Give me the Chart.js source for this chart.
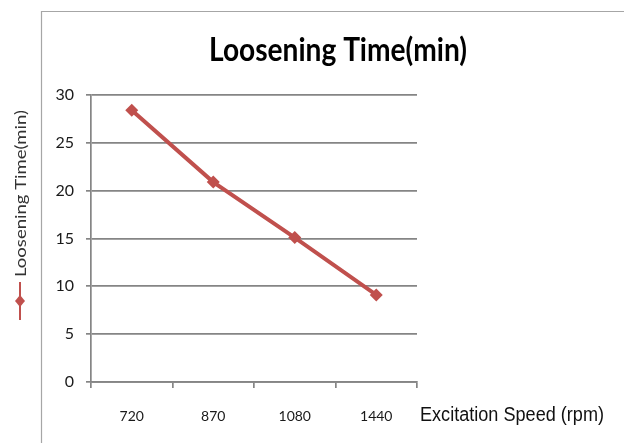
<!DOCTYPE html>
<html lang="en">
<head>
    <meta charset="UTF-8">
    <title>Loosening Time(min)</title>
    <style>
        html, body { margin: 0; padding: 0; background: #fff; }
        #wrap { width: 624px; height: 443px; position: relative; }
    </style>
</head>
<body>
<div id="wrap"><canvas id="lineChart"></canvas></div>

<script src="https://cdn.jsdelivr.net/npm/chart.js@4.4.1/dist/chart.umd.min.js"></script>
<script>
// data
const speedLabels = ['720', '870', '1080', '1440']
const looseningTime = [28.4, 20.9, 15.1, 9.1]
const yTicks = [0, 5, 10, 15, 20, 25, 30]

const chartTitle = 'Loosening Time(min)'
const seriesName = 'Loosening Time(min)'
const xTitle = 'Excitation Speed (rpm)'

const red = '#C0504D'
const gridGray = '#858585'

// draw text squeezed/stretched to a given width (keeps it real text)
function fitText(ctx, text, x, y, width) {
    let w = ctx.measureText(text).width
    ctx.save()
    ctx.translate(x, y)
    ctx.scale(width / w, 1)
    ctx.fillText(text, 0, 0)
    ctx.restore()
}

const decorations = {
    id: 'decorations',
    afterDraw(chart) {
        let ctx = chart.ctx
        ctx.save()

        // chart frame (left and top edges)
        ctx.strokeStyle = '#a6a6a6'
        ctx.lineWidth = 1.2
        ctx.beginPath()
        ctx.moveTo(41.5, 443)
        ctx.lineTo(41.5, 11.5)
        ctx.lineTo(624, 11.5)
        ctx.stroke()

        // title
        ctx.fillStyle = '#000'
        ctx.font = 'bold 33px Lato'
        ctx.textAlign = 'left'
        ctx.textBaseline = 'alphabetic'
        fitText(ctx, chartTitle, 209, 61, 258)

        // x axis title, right of the axis
        ctx.fillStyle = '#111'
        ctx.font = '20px "Liberation Sans"'
        fitText(ctx, xTitle, 420, 421, 184)

        // rotated legend on the left
        ctx.save()
        ctx.translate(26, 277)
        ctx.rotate(-Math.PI / 2)
        ctx.font = '15px Lato'
        ctx.fillStyle = '#333'
        fitText(ctx, seriesName, 0, 0, 167)
        ctx.restore()

        ctx.strokeStyle = red
        ctx.lineWidth = 2
        ctx.beginPath()
        ctx.moveTo(20, 282)
        ctx.lineTo(20, 320)
        ctx.stroke()
        ctx.fillStyle = red
        ctx.beginPath()
        ctx.moveTo(20, 295)
        ctx.lineTo(25, 301)
        ctx.lineTo(20, 307)
        ctx.lineTo(15, 301)
        ctx.closePath()
        ctx.fill()

        ctx.restore()
    }
}

let line = document.getElementById('lineChart')
let myLineChart = new Chart(line, {
    type: 'line',
    data: {
        labels: speedLabels,
        datasets: [{
            label: seriesName,
            data: looseningTime,
            borderColor: red,
            backgroundColor: red,
            borderWidth: 4,
            pointStyle: 'rectRot',
            pointRadius: 6.5,
            pointBorderWidth: 0,
            fill: false,
            tension: 0
        }]
    },
    options: {
        responsive: true,
        maintainAspectRatio: false,
        animation: false,
        layout: {
            padding: { left: 41, top: 95, right: 207, bottom: 0 }
        },
        plugins: {
            legend: { display: false },
            title: { display: false },
            tooltip: { enabled: false }
        },
        scales: {
            x: {
                offset: true,
                afterFit(scale) { scale.height = 61 },
                grid: {
                    offset: true,
                    drawOnChartArea: false,
                    drawTicks: true,
                    tickLength: 6,
                    color: gridGray,
                    lineWidth: 1.7
                },
                border: { color: gridGray, width: 1.7 },
                ticks: {
                    padding: 20,
                    color: '#1a1a1a',
                    font: { family: 'Lato', size: 14 }
                }
            },
            y: {
                min: 0,
                max: 30,
                afterFit(scale) { scale.width = 50 },
                afterBuildTicks(scale) {
                    scale.ticks = yTicks.map(v => ({ value: v }))
                },
                grid: {
                    color: gridGray,
                    lineWidth: 1.7,
                    tickLength: 5
                },
                border: { color: gridGray, width: 1.7 },
                ticks: {
                    padding: 12,
                    color: '#1a1a1a',
                    font: { family: 'Lato', size: 16 }
                }
            }
        }
    },
    plugins: [decorations]
})
</script>
</body>
</html>
